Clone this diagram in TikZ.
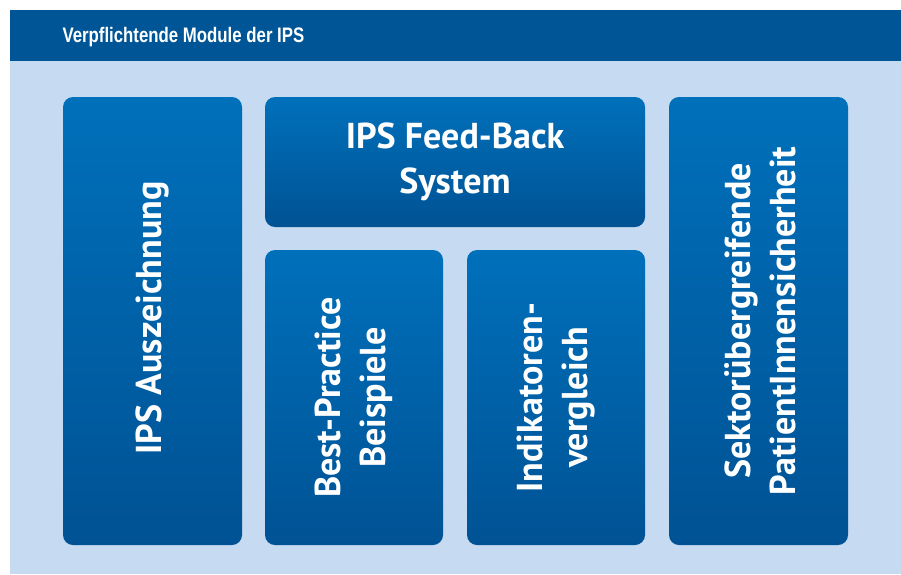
\documentclass[tikz,border=0pt]{standalone}
\usepackage{fontspec}
\usepackage{tikz}
\usetikzlibrary{positioning}
\newfontfamily\headfont[FakeStretch=0.8]{Liberation Sans}
\newfontfamily\boxfont{PT Sans}
\definecolor{ipsdark}{RGB}{0,85,150}
\definecolor{ipslight}{RGB}{198,218,241}
\definecolor{ipstop}{RGB}{0,112,187}
\definecolor{ipsbottom}{RGB}{0,82,148}

\begin{document}
\begin{tikzpicture}[x=1pt,y=-1pt,
  modbox/.style={rounded corners=10pt, top color=ipstop, bottom color=ipsbottom,
    draw=none, inner sep=0pt},
  modtext/.style={text=white, font=\boxfont\bfseries\fontsize{36}{45}\selectfont, align=center}]
\useasboundingbox (0,0) rectangle (901,574);
\fill[white] (0,0) rectangle (901,574);
\fill[ipslight] (10,61) rectangle (901,574);
\fill[ipsdark] (10,10) rectangle (901,61);
\node[anchor=west, text=white, font=\headfont\bfseries\fontsize{21}{24}\selectfont] (title) at (59,37) {Verpflichtende Module der IPS};
% Module
\path[modbox] (63,97) rectangle (242,545);
\node (ausz) at (152.5,318) {};
\path[modbox] (265,97) rectangle (645,227);
\node (feed) at (455,162) {};
\path[modbox] (265,250) rectangle (443,545);
\node (best) at (354,397.5) {};
\path[modbox] (467,250) rectangle (645,545);
\node (indi) at (556,397.5) {};
\path[modbox] (669,97) rectangle (848,545);
\node (sekt) at (760,321) {};
% Beschriftung
\node[modtext, rotate=90] at (ausz) {IPS Auszeichnung};
\node[modtext] at (feed) {IPS Feed-Back\\System};
\node[modtext, rotate=90] at (best) {Best-Practice\\Beispiele};
\node[modtext, rotate=90] at (indi) {Indikatoren-\\vergleich};
\node[modtext, rotate=90] at (sekt) {Sektorübergreifende\\PatientInnensicherheit};
\end{tikzpicture}
\end{document}
